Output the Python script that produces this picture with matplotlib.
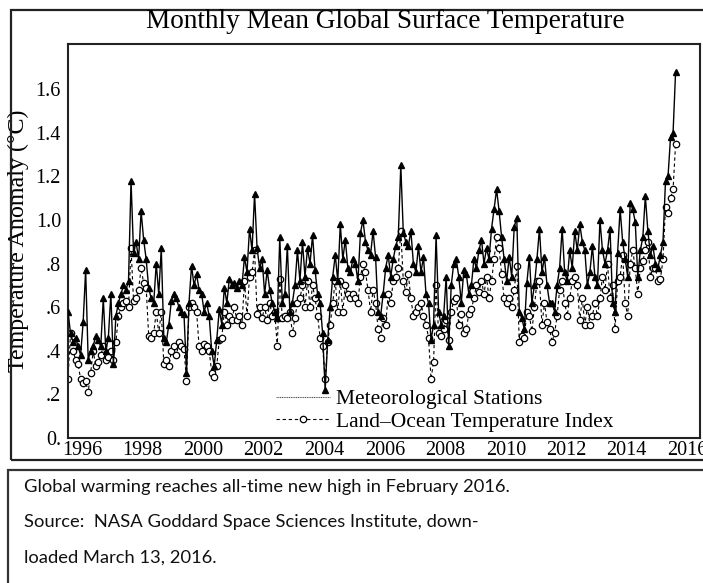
import numpy as np
import matplotlib
matplotlib.use("Agg")
import matplotlib.pyplot as plt
from matplotlib.lines import Line2D
from matplotlib.patches import Rectangle

# GISS monthly anomalies (deg C), Jan 1996 .. Feb 2016, one row per year
start_year = 1996
met_stations = [
    0.58, 0.48, 0.44, 0.46, 0.42, 0.38, 0.53, 0.77, 0.36, 0.40, 0.42, 0.47,  # 1996
    0.45, 0.42, 0.64, 0.40, 0.46, 0.66, 0.34, 0.56, 0.62, 0.66, 0.70, 0.68,  # 1997
    0.72, 1.18, 0.85, 0.90, 0.82, 1.04, 0.91, 0.82, 0.69, 0.64, 0.62, 0.80,  # 1998
    0.66, 0.87, 0.46, 0.44, 0.52, 0.63, 0.66, 0.64, 0.60, 0.58, 0.57, 0.30,  # 1999
    0.62, 0.79, 0.70, 0.75, 0.68, 0.66, 0.58, 0.62, 0.56, 0.40, 0.33, 0.45,  # 2000
    0.59, 0.52, 0.69, 0.62, 0.73, 0.70, 0.71, 0.69, 0.72, 0.70, 0.83, 0.76,  # 2001
    0.96, 0.86, 1.12, 0.87, 0.78, 0.82, 0.66, 0.77, 0.68, 0.62, 0.58, 0.55,  # 2002
    0.92, 0.62, 0.66, 0.88, 0.58, 0.62, 0.70, 0.86, 0.72, 0.90, 0.74, 0.87,  # 2003
    0.80, 0.93, 0.77, 0.66, 0.62, 0.48, 0.22, 0.45, 0.60, 0.74, 0.84, 0.72,  # 2004
    0.98, 0.82, 0.91, 0.78, 0.76, 0.82, 0.80, 0.72, 0.94, 1.00, 0.90, 0.86,  # 2005
    0.84, 0.95, 0.83, 0.58, 0.56, 0.66, 0.78, 0.84, 0.74, 0.82, 0.88, 0.92,  # 2006
    1.25, 0.94, 0.90, 0.88, 0.95, 0.80, 0.76, 0.88, 0.76, 0.83, 0.66, 0.62,  # 2007
    0.45, 0.52, 0.93, 0.58, 0.52, 0.56, 0.74, 0.42, 0.70, 0.80, 0.82, 0.74,  # 2008
    0.62, 0.77, 0.75, 0.66, 0.70, 0.82, 0.78, 0.86, 0.91, 0.80, 0.87, 0.82,  # 2009
    0.96, 1.05, 1.14, 1.04, 0.92, 0.82, 0.72, 0.83, 0.74, 0.97, 1.01, 0.58,  # 2010
    0.55, 0.50, 0.71, 0.83, 0.62, 0.70, 0.82, 0.96, 0.76, 0.83, 0.70, 0.62,  # 2011
    0.62, 0.58, 0.70, 0.78, 0.96, 0.76, 0.72, 0.86, 0.78, 0.95, 0.86, 0.98,  # 2012
    0.90, 0.86, 0.70, 0.76, 0.88, 0.74, 0.70, 1.00, 0.86, 0.80, 0.86, 0.96,  # 2013
    0.62, 0.58, 0.85, 1.05, 0.90, 0.82, 0.74, 1.08, 1.05, 0.99, 0.74, 0.86,  # 2014
    0.92, 1.11, 0.95, 0.84, 0.88, 0.80, 0.78, 0.84, 0.90, 1.18, 1.20, 1.38,  # 2015
    1.40, 1.68,                                                              # 2016
]
land_ocean = [
    0.27, 0.48, 0.40, 0.36, 0.34, 0.27, 0.25, 0.26, 0.21, 0.30, 0.40, 0.33,  # 1996
    0.35, 0.38, 0.42, 0.36, 0.37, 0.40, 0.36, 0.44, 0.56, 0.60, 0.62, 0.63,  # 1997
    0.60, 0.87, 0.63, 0.64, 0.68, 0.78, 0.71, 0.69, 0.47, 0.46, 0.48, 0.58,  # 1998
    0.48, 0.58, 0.34, 0.36, 0.33, 0.40, 0.42, 0.38, 0.44, 0.42, 0.41, 0.26,  # 1999
    0.60, 0.62, 0.60, 0.58, 0.42, 0.40, 0.43, 0.42, 0.40, 0.30, 0.28, 0.33,  # 2000
    0.45, 0.46, 0.58, 0.52, 0.56, 0.54, 0.60, 0.54, 0.56, 0.52, 0.72, 0.56,  # 2001
    0.74, 0.76, 0.86, 0.57, 0.60, 0.55, 0.60, 0.54, 0.62, 0.56, 0.58, 0.42,  # 2002
    0.73, 0.55, 0.56, 0.55, 0.58, 0.48, 0.55, 0.62, 0.64, 0.70, 0.60, 0.72,  # 2003
    0.60, 0.70, 0.64, 0.56, 0.46, 0.42, 0.27, 0.44, 0.52, 0.62, 0.72, 0.58,  # 2004
    0.72, 0.58, 0.70, 0.66, 0.64, 0.66, 0.64, 0.62, 0.74, 0.80, 0.76, 0.68,  # 2005
    0.58, 0.68, 0.62, 0.50, 0.46, 0.55, 0.52, 0.66, 0.62, 0.72, 0.74, 0.78,  # 2006
    0.95, 0.72, 0.67, 0.75, 0.64, 0.56, 0.58, 0.60, 0.62, 0.56, 0.52, 0.46,  # 2007
    0.27, 0.35, 0.70, 0.48, 0.47, 0.50, 0.54, 0.45, 0.58, 0.63, 0.64, 0.52,  # 2008
    0.57, 0.48, 0.50, 0.57, 0.59, 0.64, 0.70, 0.67, 0.72, 0.66, 0.74, 0.64,  # 2009
    0.72, 0.82, 0.92, 0.87, 0.75, 0.64, 0.62, 0.64, 0.60, 0.68, 0.79, 0.44,  # 2010
    0.47, 0.46, 0.58, 0.56, 0.49, 0.60, 0.72, 0.72, 0.52, 0.62, 0.53, 0.50,  # 2011
    0.44, 0.48, 0.56, 0.68, 0.72, 0.62, 0.56, 0.64, 0.72, 0.74, 0.70, 0.54,  # 2012
    0.64, 0.52, 0.60, 0.52, 0.56, 0.62, 0.56, 0.64, 0.74, 0.68, 0.80, 0.64,  # 2013
    0.70, 0.50, 0.72, 0.74, 0.84, 0.62, 0.56, 0.80, 0.86, 0.78, 0.66, 0.78,  # 2014
    0.81, 0.86, 0.90, 0.74, 0.78, 0.78, 0.72, 0.73, 0.82, 1.06, 1.03, 1.10,  # 2015
    1.14, 1.35,                                                              # 2016
]
year_ticks = list(range(1996, 2017, 2))
y_ticks = [0.0, 0.2, 0.4, 0.6, 0.8, 1.0, 1.2, 1.4, 1.6]
y_tick_labels = ["0.", ".2", ".4", ".6", ".8", "1.0", "1.2", "1.4", "1.6"]

title = "Monthly Mean Global Surface Temperature"
caption = ["Global warming reaches all-time new high in February 2016.",
           "Source:  NASA Goddard Space Sciences Institute, down-",
           "loaded March 13, 2016."]

SERIF = "Liberation Serif"


def main():
    W, H = 703, 583
    fig = plt.figure(figsize=(W / 100, H / 100), dpi=100)
    fig.patch.set_facecolor("white")

    def fx(px):
        return px / W

    def fy(py):
        return 1 - py / H

    # outer frames: chart and caption box (right side runs off the page)
    fig.patches.append(Rectangle((fx(11), fy(460)), fx(712) - fx(11), fy(10) - fy(460),
                                 transform=fig.transFigure, fill=False, lw=1.6, ec="#222222"))
    fig.patches.append(Rectangle((fx(8), fy(590)), fx(712) - fx(8), fy(470) - fy(590),
                                 transform=fig.transFigure, fill=False, lw=1.6, ec="#333333"))

    ax = fig.add_axes([fx(68), fy(438), fx(700) - fx(68), fy(44) - fy(438)])

    t_met = start_year + np.arange(len(met_stations)) / 12.0
    t_loti = start_year + np.arange(len(land_ocean)) / 12.0

    ax.plot(t_met, met_stations, color="black", lw=1.0, marker="^", ms=4,
            mfc="black", mec="black", zorder=3)
    ax.plot(t_loti, land_ocean, color="black", lw=0.8, ls=(0, (3, 2.5)), marker="o", ms=4.6,
            mfc="white", mec="black", mew=0.9, zorder=2)

    ax.set_xlim(1996.0, 2016.89)
    ax.set_ylim(0, 1.807)
    ax.set_xticks([y + 0.47 for y in year_ticks])
    ax.set_xticklabels([str(y) for y in year_ticks], fontfamily=SERIF, fontsize=14.5)
    ax.set_yticks(y_ticks)
    ax.set_yticklabels(y_tick_labels, fontfamily=SERIF, fontsize=14.5)
    ax.tick_params(axis="both", length=0)
    ax.tick_params(axis="y", pad=5)
    ax.tick_params(axis="x", pad=2)
    for s in ax.spines.values():
        s.set_linewidth(1.5)
        s.set_color("#222222")

    ax.set_ylabel("Temperature Anomaly (°C)", fontfamily=SERIF, fontsize=17.3)
    ax.yaxis.set_label_coords((29 - 68) / 632, 0.5)

    fig.text(fx(385), fy(28), title, ha="center", va="baseline",
             fontfamily=SERIF, fontsize=19.6)

    handles = [Line2D([], [], color="#555555", lw=0.8, ls=(0, (1, 0.6))),
               Line2D([], [], color="black", lw=0.8, ls=(0, (3, 2.5)), marker="o", ms=4.6,
                      mfc="white", mec="black", mew=0.9)]
    ax.legend(handles, ["Meteorological Stations", "Land\u2013Ocean Temperature Index"],
              loc="upper left", bbox_to_anchor=((276 - 68) / 632, (438 - 389) / 394),
              frameon=False, numpoints=1, handlelength=2.5, handletextpad=0.3,
              labelspacing=0.12, borderpad=0, borderaxespad=0,
              prop={"family": SERIF, "size": 15.5})

    for k, line in enumerate(caption):
        fig.text(fx(24), fy(487 + 35.5 * k), line, ha="left", va="center",
                 fontfamily="Lato", fontsize=13.2, color="#111111")

    fig.savefig("out.png", dpi=100)


if __name__ == "__main__":
    main()
